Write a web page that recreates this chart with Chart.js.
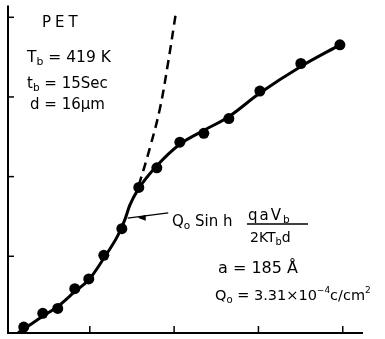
<!DOCTYPE html>
<html>
<head>
<meta charset="utf-8">
<script src="https://cdn.jsdelivr.net/npm/chart.js@4/dist/chart.umd.min.js"></script>
<style>
html,body{margin:0;padding:0;background:#fff;}
#wrap{width:385px;height:339px;position:relative;}
</style>
</head>
<body>
<div id="wrap"><canvas id="c"></canvas></div>
<script>
// Measured points (filled circles)
const pointX = [0.217, 0.442, 0.620, 0.822, 0.988, 1.166, 1.380, 1.581, 1.795, 2.068, 2.352, 2.649, 3.017, 3.503, 3.966];
const pointY = [0.111, 0.284, 0.346, 0.593, 0.716, 1.012, 1.346, 1.864, 2.111, 2.432, 2.543, 2.728, 3.074, 3.420, 3.654];
// Solid fitted curve (Q0 sinh ...)
const fitX = [0.15, 0.217, 0.442, 0.620, 0.822, 0.988, 1.166, 1.332, 1.415, 1.475, 1.581, 1.795, 2.068, 2.352, 2.649, 3.017, 3.503, 3.966];
const fitY = [0.04, 0.086, 0.247, 0.370, 0.556, 0.704, 0.975, 1.259, 1.457, 1.642, 1.852, 2.136, 2.407, 2.580, 2.753, 3.049, 3.383, 3.654];
// Dashed curve
const dashX = [1.581, 1.712, 1.831, 1.925, 2.020];
const dashY = [1.889, 2.358, 2.852, 3.407, 4.049];
// Axis tick values (unlabelled)
const xTicks = [1, 2, 3, 4];
const yTicks = [1, 2, 3, 4];

const toXY = (xs, ys) => xs.map((x, i) => ({x: x, y: ys[i]}));

const FONT = '"DejaVu Sans", sans-serif';

function rich(ctx, x, y, segs, size) {
  let cx = x;
  for (const s of segs) {
    let fs = size, dy = 0;
    if (s.sub) { fs = size * 0.7; dy = size * 0.2; }
    if (s.sup) { fs = size * 0.62; dy = -size * 0.45; }
    ctx.font = fs + 'px ' + FONT;
    ctx.fillText(s.t, cx, y + dy);
    cx += ctx.measureText(s.t).width;
  }
  return cx;
}

const annot = {
  id: 'annot',
  afterDraw(chart) {
    const ctx = chart.ctx;
    const a = chart.chartArea;
    const xs = chart.scales.x, ys = chart.scales.y;
    ctx.save();
    ctx.strokeStyle = '#000';
    ctx.fillStyle = '#000';
    ctx.lineWidth = 2;
    ctx.beginPath();
    ctx.moveTo(a.left, a.top);
    ctx.lineTo(a.left, a.bottom);
    ctx.lineTo(a.right, a.bottom);
    ctx.stroke();
    ctx.lineWidth = 1.5;
    for (const t of xTicks) {
      const px = xs.getPixelForValue(t);
      ctx.beginPath(); ctx.moveTo(px, a.bottom); ctx.lineTo(px, a.bottom - 7); ctx.stroke();
    }
    for (const t of yTicks) {
      const py = ys.getPixelForValue(t);
      ctx.beginPath(); ctx.moveTo(a.left, py); ctx.lineTo(a.left + 6, py); ctx.stroke();
    }
    // arrow
    const ax1 = xs.getPixelForValue(1.93), ay1 = ys.getPixelForValue(1.545);
    const ax2 = xs.getPixelForValue(1.45), ay2 = ys.getPixelForValue(1.48);
    ctx.lineWidth = 1.3;
    ctx.beginPath(); ctx.moveTo(ax1, ay1); ctx.lineTo(ax2, ay2); ctx.stroke();
    const hx = ax2 + 10, hy = ay2 - 0.2;
    ctx.beginPath(); ctx.moveTo(hx, hy); ctx.lineTo(hx + 8, hy - 3); ctx.lineTo(hx + 8, hy + 3); ctx.closePath(); ctx.fill();

    ctx.textBaseline = 'alphabetic';
    ctx.font = '15px ' + FONT;
    ctx.letterSpacing = '4px';
    ctx.fillText('PET', 42, 27);
    ctx.letterSpacing = '0px';
    rich(ctx, 27, 62, [{t:'T'},{t:'b',sub:true},{t:' = 419 K'}], 15.5);
    rich(ctx, 27, 88, [{t:'t'},{t:'b',sub:true},{t:' = 15Sec'}], 15);
    rich(ctx, 30, 109, [{t:'d = 16μm'}], 15);

    rich(ctx, 172, 226, [{t:'Q'},{t:'o',sub:true},{t:' Sin h'}], 15);
    ctx.letterSpacing = '2px';
    rich(ctx, 248, 220, [{t:'qaV'},{t:'b',sub:true}], 15);
    ctx.letterSpacing = '0px';
    ctx.lineWidth = 1.3;
    ctx.beginPath(); ctx.moveTo(247, 224); ctx.lineTo(308, 224); ctx.stroke();
    rich(ctx, 250, 242, [{t:'2KT'},{t:'b',sub:true},{t:'d'}], 14);
    rich(ctx, 218, 273, [{t:'a = 185 Å'}], 16);
    rich(ctx, 215, 300, [{t:'Q'},{t:'o',sub:true},{t:' = 3.31×10'},{t:'−4',sup:true},{t:'c/cm'},{t:'2',sup:true}], 14.5);
    ctx.restore();
  }
};

new Chart(document.getElementById('c'), {
  type: 'scatter',
  data: {
    datasets: [
      { data: toXY(fitX, fitY), showLine: true, borderColor: '#000', borderWidth: 3, pointRadius: 0, tension: 0.4, cubicInterpolationMode: 'monotone', clip: false },
      { data: toXY(dashX, dashY), showLine: true, borderColor: '#000', borderWidth: 2.5, borderDash: [9, 6], pointRadius: 0, tension: 0.4, clip: false },
      { data: toXY(pointX, pointY), showLine: false, pointRadius: 5.5, pointBackgroundColor: '#000', pointBorderColor: '#000', pointBorderWidth: 0, clip: false }
    ]
  },
  options: {
    responsive: true,
    maintainAspectRatio: false,
    animation: false,
    layout: { padding: { left: 8, right: 22, top: 0, bottom: 6 } },
    plugins: { legend: { display: false }, tooltip: { enabled: false } },
    scales: {
      x: { type: 'linear', display: false, min: 0.03, max: 4.24 },
      y: { type: 'linear', display: false, min: 0.037, max: 4.148 }
    }
  },
  plugins: [annot]
});
</script>
</body>
</html>
